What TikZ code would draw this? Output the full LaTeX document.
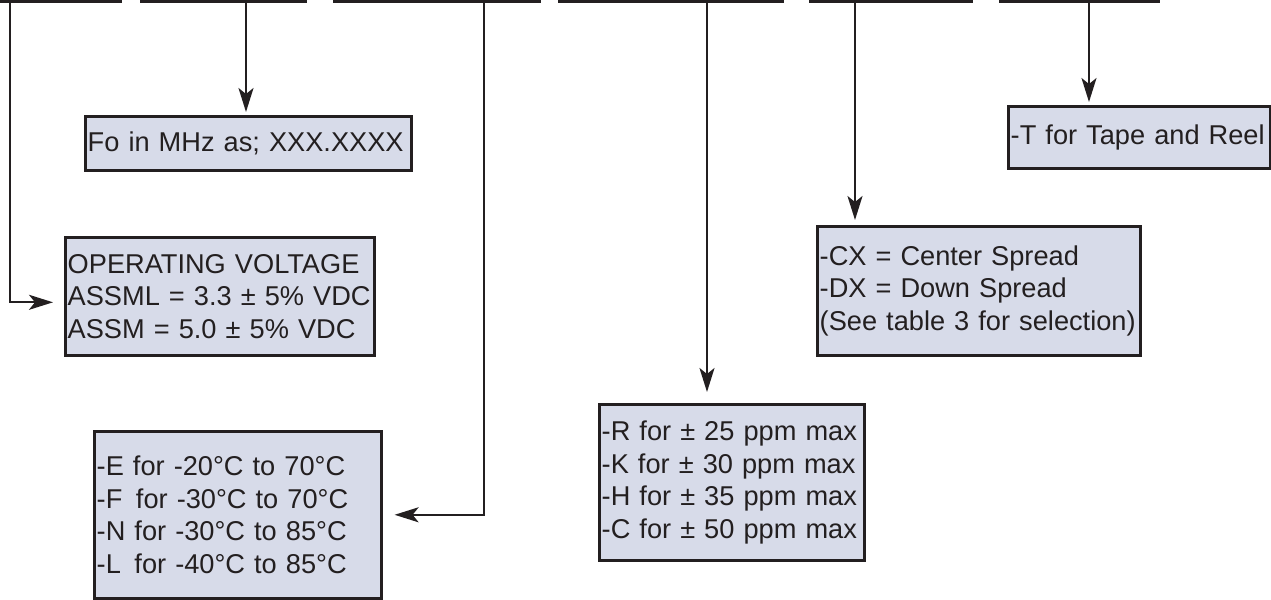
\documentclass[tikz,border=0pt]{standalone}
\usepackage{fontspec}
\setmainfont{Liberation Sans}
\usetikzlibrary{arrows.meta}
\definecolor{boxfill}{RGB}{215,219,233}
\definecolor{ink}{RGB}{35,31,32}

\begin{document}
\begin{tikzpicture}[
  x=0.5pt, y=-0.5pt,
  box/.style={draw=ink, line width=1.3pt, fill=boxfill, anchor=north west, inner xsep=1.2pt, inner ysep=0pt, align=left, text=ink, font=\fontsize{13.6}{16.3}\selectfont},
  arr/.style={draw=ink, line width=1pt, -{Stealth[length=12pt, width=7.5pt, inset=3pt]}, shorten >=1.5pt},
  seg/.style={draw=ink, line width=1.1pt}
]
\useasboundingbox (0,0) rectangle (1271,600);

% underlines of the ordering code
\foreach \a/\b in {0/122, 140/307, 333/541, 558/784, 809/973, 999/1160}
  \draw[seg] (\a,1.5) -- (\b,1.5);

\coordinate (tVolt)   at (10,0);
\coordinate (tFo)     at (246,0);
\coordinate (tTemp)   at (484,0);
\coordinate (tPpm)    at (707,0);
\coordinate (tSpread) at (855,0);
\coordinate (tTape)   at (1089,0);

\node[box, text width=160.6pt, minimum height=27pt]   (fo)     at (84,115)   {Fo in MHz as; XXX.XXXX};
\node[box, text width=128.6pt, minimum height=31pt]   (tape)   at (1007,105) {-T for Tape and Reel};
\node[box, text width=152.1pt, minimum height=59pt]   (volt)   at (64,236)   {OPERATING VOLTAGE\\ASSML = 3.3 ± 5\% VDC\\ASSM = 5.0 ± 5\% VDC};
\node[box, text width=141.1pt, minimum height=83.5pt] (temp)   at (93,430)   {-E for -20°C to 70°C\\-F\,\ for -30°C to 70°C\\-N for -30°C to 85°C\\-L\,\ for -40°C to 85°C};
\node[box, text width=130.1pt, minimum height=78pt]   (ppm)    at (598,403)  {-R for ± 25 ppm max\\-K for ± 30 ppm max\\-H for ± 35 ppm max\\-C for ± 50 ppm max};
\node[box, text width=159.1pt, minimum height=64.5pt] (spread) at (816,225)  {-CX = Center Spread\\-DX = Down Spread\\(See table 3 for selection)};

\draw[arr, shorten >=5.5pt] (tVolt) |- ([yshift=-3pt]volt.west);
\draw[arr] (tFo) -- (tFo |- fo.north);
\draw[arr, shorten >=6pt] (tTemp) |- (temp.east);
\draw[arr, shorten >=5.5pt] (tPpm) -- (tPpm |- ppm.north);
\draw[arr, shorten >=2.5pt] (tSpread) -- (tSpread |- spread.north);
\draw[arr] (tTape) -- (tTape |- tape.north);
\end{tikzpicture}
\end{document}
